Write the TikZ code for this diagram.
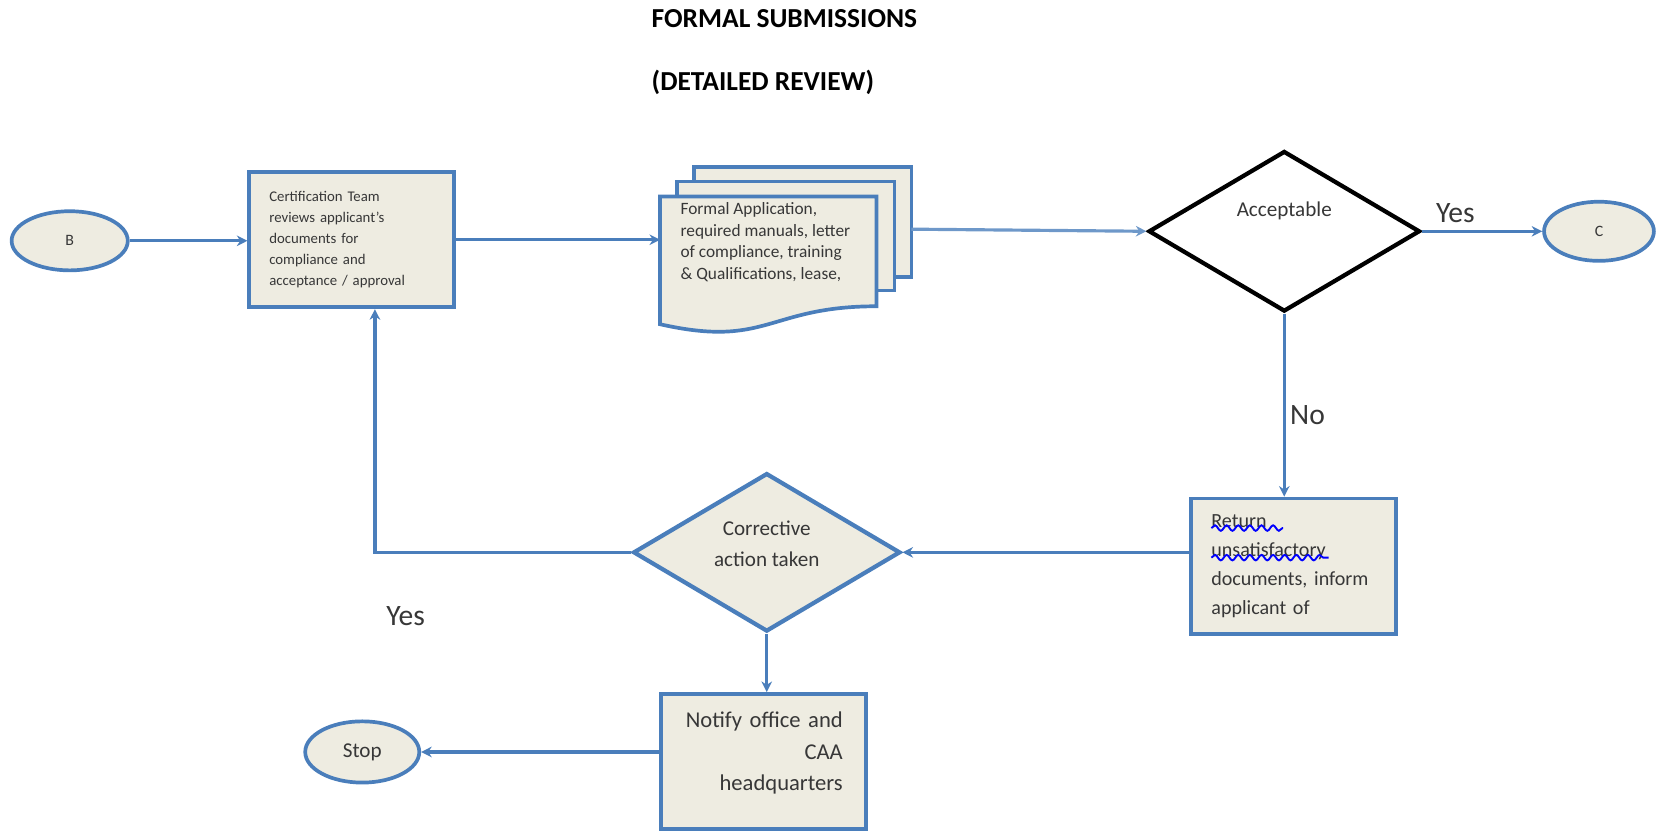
\documentclass[tikz,border=0pt]{standalone}
\usepackage{fontspec}
\setmainfont{Carlito}
\usetikzlibrary{shapes.geometric,arrows.meta,decorations.pathmorphing}
\definecolor{wblue}{RGB}{74,126,187}
\definecolor{wfill}{RGB}{238,236,225}
\definecolor{wtext}{RGB}{55,55,55}
\begin{document}
\begin{tikzpicture}[x=0.5pt,y=-0.5pt,
  conn/.style={draw=wblue,line width=1.5pt,-{Stealth[length=5pt,width=5pt]}},
  boxnode/.style={draw=wblue,fill=wfill,line width=1.75pt,rectangle,minimum width=97pt,minimum height=64pt,inner sep=0pt,text=wtext},
  page/.style={draw=wblue,fill=wfill,line width=1.75pt},
  term/.style={draw=wblue,fill=wfill,line width=1.75pt,ellipse,inner sep=0pt,text=wtext},
  decision/.style={diamond,line width=2pt,inner sep=0pt},
  lbl/.style={text=wtext,font=\fontsize{14}{16}\selectfont},
  squig/.style={draw=blue,line width=0.9pt,decorate,decoration={snake,amplitude=1.3pt,segment length=5.5pt}}
]
\useasboundingbox (0,0) rectangle (1568,786);

% title
\node[anchor=west,font=\bfseries\fontsize{13}{15}\selectfont] (title1) at (610,18) {FORMAL SUBMISSIONS};
\node[anchor=west,font=\bfseries\fontsize{13}{15}\selectfont] (title2) at (610,78) {(DETAILED REVIEW)};

% terminals
\node[term,minimum width=55pt,minimum height=28pt,font=\fontsize{7.5}{9}\selectfont] (B) at (66,228) {B};
\node[term,minimum width=52pt,minimum height=28pt,font=\fontsize{7.5}{9}\selectfont] (C) at (1514,219) {C};
\node[term,minimum width=54pt,minimum height=29pt,font=\fontsize{10}{12}\selectfont] (Stop) at (343,712) {Stop};

% review box
\node[boxnode,text width=78pt,align=left,font=\fontsize{7}{10}\selectfont] (box1) at (333,227)
  {Certification Team\\reviews applicant's\\documents for\\compliance and\\acceptance / approval};

% document stack
\path[page] (657,158) rectangle (863,262);
\path[page] (641,172) rectangle (847,275);
\path[page] (625,186) -- (830,186) -- (830,290) .. controls (727,290) and (727,330) .. (625,307) -- cycle;
\node[anchor=north west,align=left,text=wtext,font=\fontsize{8.2}{10.35}\selectfont,inner sep=0pt] (doc) at (644,191)
  {Formal Application,\\required manuals, letter\\of compliance, training\\\& Qualifications, lease,};
\coordinate (docW) at (625,227);
\coordinate (docE) at (863,217);

% decision acceptable
\node[decision,draw=black,fill=white,minimum width=128.5pt,minimum height=76pt] (d1) at (1216,219) {};
\node[text=wtext,font=\fontsize{10}{12}\selectfont] (d1t) at ([yshift=9.5pt]d1.center) {Acceptable};

% reject box
\node[boxnode,text width=78pt,align=left,font=\fontsize{9.5}{13.75}\selectfont] (rej) at (1225,536)
  {Return\\unsatisfactory\\documents, inform\\applicant of};
\draw[squig] (1147,500) -- (1215,500);
\draw[squig] (1147,528) -- (1258,528);

% decision corrective
\node[decision,draw=wblue,fill=wfill,minimum width=126.5pt,minimum height=75pt] (d2) at (726,523) {};
\node[align=center,text=wtext,font=\fontsize{10}{14.5}\selectfont] (d2t) at ([yshift=4pt]d2.center) {Corrective\\action taken};

% notify box
\node[boxnode] (notify) at (723,721) {};
\node[text width=75pt,align=right,inner sep=0pt,text=wtext,font=\fontsize{10.7}{15}\selectfont] (notifyt) at ([yshift=4pt]notify.center)
  {Notify office and\\CAA\\headquarters};

% connectors
\draw[conn] (B.east) -- (B.east -| box1.west);
\draw[conn] (box1.east |- docW) -- (docW);
\draw[conn,draw=wblue!80] (docE) -- (d1.west);
\draw[conn] (d1.east) -- (C.west);
\draw[conn] (d1.south) -- (d1.south |- rej.north);
\draw[conn] (rej.west |- d2.east) -- (d2.east);
\draw[conn] (d2.west) -| ([xshift=11pt]box1.south);
\draw[conn] (d2.south) -- (d2.south |- notify.north);
\draw[conn] (notify.west |- Stop.east) -- (Stop.east);

% labels
\node[lbl] (yes1) at (1378,202) {Yes};
\node[lbl] (no1) at (1238,393) {No};
\node[lbl] (yes2) at (384,583) {Yes};
\end{tikzpicture}
\end{document}
